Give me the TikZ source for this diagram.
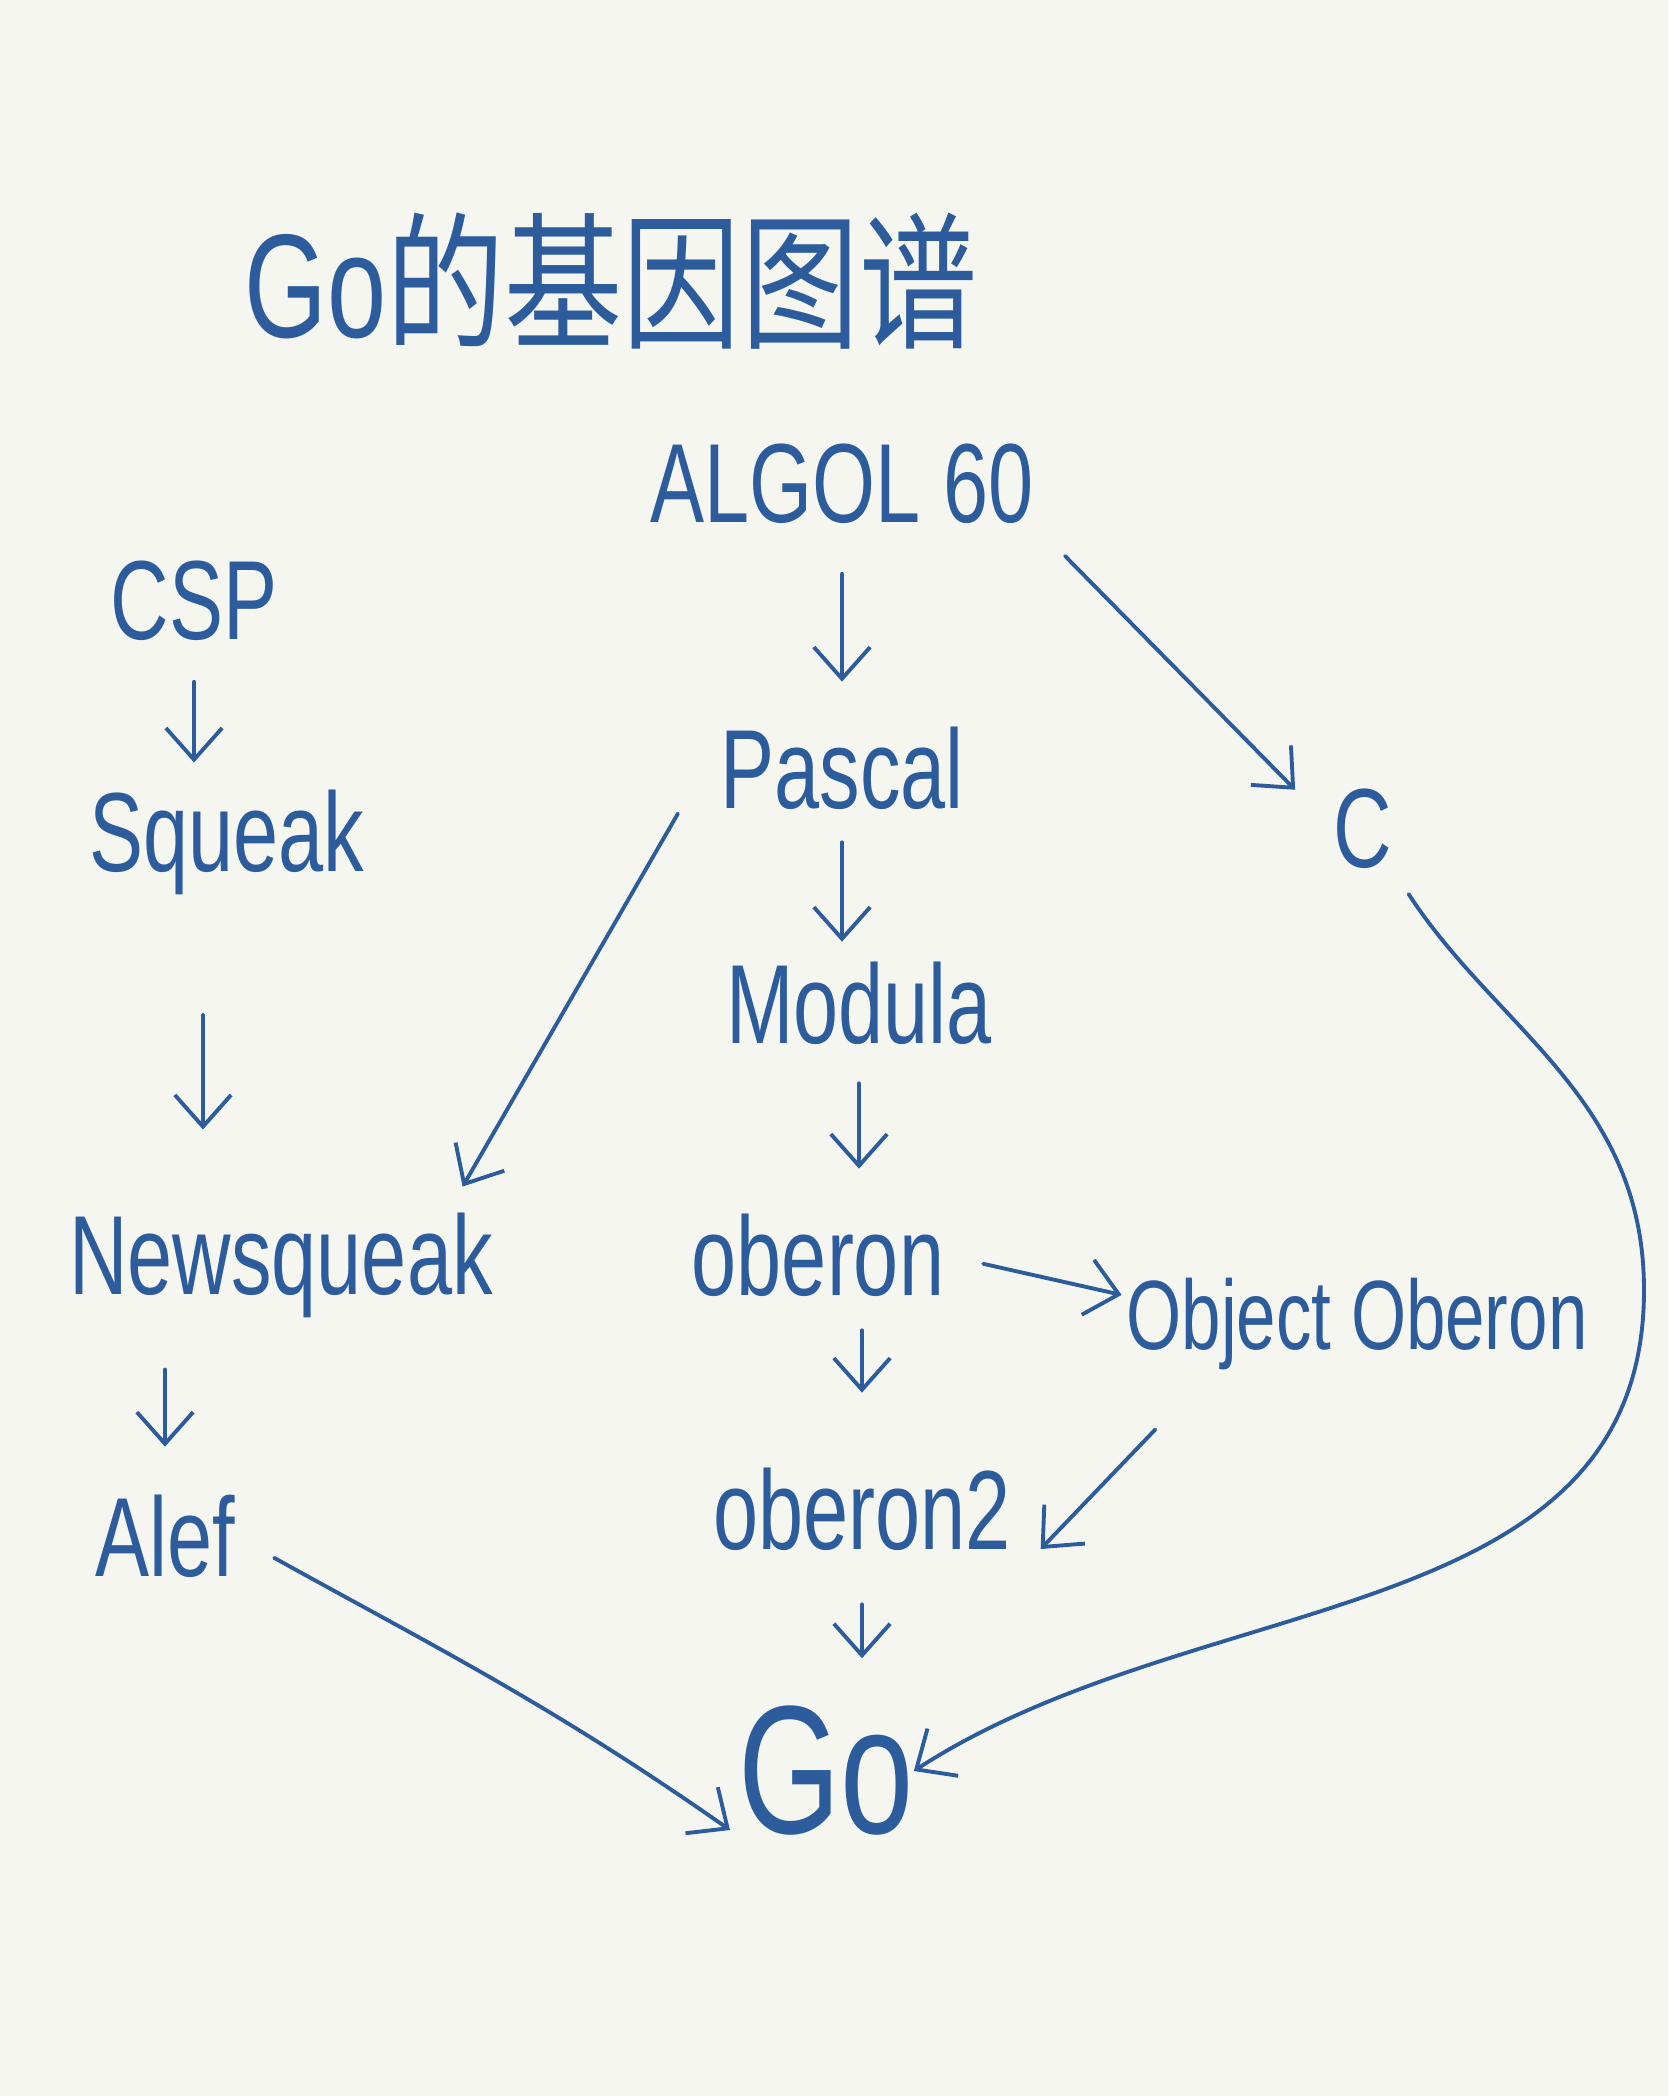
\documentclass[tikz,border=0pt]{standalone}
\usepackage{fontspec}
\newfontfamily\hand{Liberation Sans}[FakeStretch=0.72]
\newfontfamily\cjk{Noto Sans CJK SC}[FakeStretch=0.8]
\usepackage{tikz}
\usetikzlibrary{arrows.meta}
\definecolor{ink}{HTML}{2C5C9C}
\definecolor{paper}{HTML}{F6F6F1}
\tikzset{
  lang/.style={text=ink,font=\hand\fontsize{32}{36}\selectfont,inner sep=0pt,outer sep=0pt},
  link/.style={color=ink,line width=1.1pt,line cap=round,-{Straight Barb[length=9pt,width=16pt,line width=1.1pt]}}
}

\begin{document}
\begin{tikzpicture}[x=0.01cm,y=-0.01cm]
  \fill[paper] (0,0) rectangle (1668,2096);
  \useasboundingbox (0,0) rectangle (1668,2096);
  \node(title)[lang,font=\hand\fontsize{42}{48}\selectfont] at (611,281){Go{\cjk 的基因图谱}};
  \node(algol)[lang] at (842,484){ALGOL 60};
  \node(csp)[lang] at (194,601){CSP};
  \node(pascal)[lang] at (842,768){Pascal};
  \node(c)[lang] at (1363,829){C};
  \node(squeak)[lang] at (227,842){Squeak};
  \node(modula)[lang] at (859,1003){Modula};
  \node(newsqueak)[lang] at (281,1265){Newsqueak};
  \node(oberon)[lang] at (818,1255){oberon};
  \node(objoberon)[lang,font=\hand\fontsize{28}{32}\selectfont] at (1357,1324){Object Oberon};
  \node(alef)[lang] at (165,1536){Alef};
  \node(oberontwo)[lang] at (862,1509){oberon2};
  \node(go)[lang,font=\hand\fontsize{52}{58}\selectfont] at (826,1771){Go};
  \path[link] (algol.south) edge[shorten <=0.5cm,shorten >=0.45cm] (pascal.north)
              (csp.south) edge[shorten <=0.41cm,shorten >=0.27cm] (csp.south |- squeak.north)
              (algol.south east) edge[shorten <=0.45cm,shorten >=0.55cm] (c.west)
              ([xshift=-0.4cm]pascal.south west) edge[shorten <=0.05cm,shorten >=0.3cm] ([xshift=-0.45cm]newsqueak.north east)
              (pascal.south) edge[shorten <=0.33cm,shorten >=0.2cm] (pascal.south |- modula.north)
              ([xshift=-0.24cm]squeak.south) edge[shorten <=1.2cm] ([xshift=-0.78cm,yshift=0.83cm]newsqueak.north)
              (modula.south) edge[shorten <=0.39cm,shorten >=0.45cm] (modula.south |- oberon.north)
              (oberon.east) edge[shorten <=0.4cm,shorten >=0.05cm] ([yshift=0.28cm]objoberon.west)
              (oberon.south -| oberontwo.north) edge[shorten <=0.34cm,shorten >=0.75cm] (oberontwo.north)
              (newsqueak.south -| alef.north) edge[shorten <=0.52cm,shorten >=0.48cm] (alef.north)
              ([xshift=0.6cm,yshift=-0.27cm]objoberon.south west) edge[shorten <=0.45cm] ([xshift=0.3cm,yshift=-0.4cm]oberontwo.east)
              (oberontwo.south) edge[shorten <=0.54cm,shorten >=0.48cm] (oberontwo.south |- go.north);
  % the two long curves into Go
  \draw[link] (alef.east) [shorten <=0.45cm,shorten >=0.1cm] to[out=-29,in=145] (go.south west);
  \coordinate(cturn) at (1644,1290);
  \draw[link] (c.south east) [shorten <=0.3cm] to[out=-57,in=90] (cturn) to[out=-90,in=33] (go.east);
\end{tikzpicture}
\end{document}
